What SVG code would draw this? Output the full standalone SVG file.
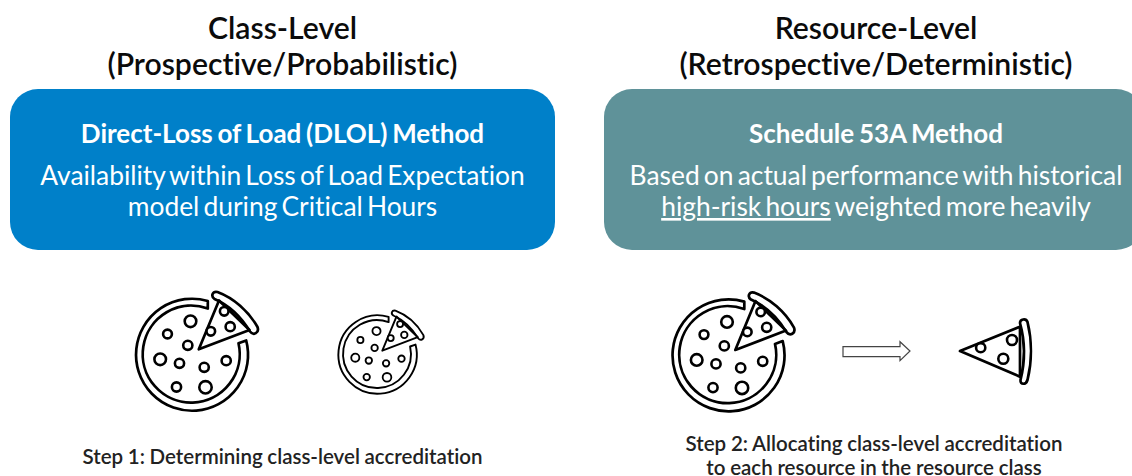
<svg xmlns="http://www.w3.org/2000/svg" xmlns:xlink="http://www.w3.org/1999/xlink" width="1132" height="476" viewBox="0 0 1132 476">
<style>
text{font-family:Lato,"Open Sans",sans-serif;text-anchor:middle;font-variant-ligatures:none}
.title{font-size:30.2px;font-weight:600;fill:#0b0b0b}
.head{font-size:26px;font-weight:700;fill:#fff;word-spacing:-1.6px}
.body{font-size:26.4px;fill:#fff;word-spacing:-2.6px}
.step{font-size:20.5px;font-weight:600;fill:#222;word-spacing:-.4px}
.l{fill:none;stroke:#000;stroke-width:2.7;stroke-linejoin:round;stroke-linecap:round}
.w{fill:#fff;stroke:#000;stroke-width:2.6}
</style>
<defs>
<g id="pizza">
<path class="l" d="M17.3-53A56 56 0 1 0 55.7-13.5L48-10.7A48.5 48.5 0 1 1 17.3-45.5Z"/>
<path class="l" d="M8.3-4.7L28.5-53.5L59-24Z"/>
<path class="l" d="M27-62C43-56 58-43 67-27C69-21 63-18 59.500-22.500C50-38 38-49 24-55C20-58 22-63 27-62Z" fill="#fff"/>
<circle class="w" cx="0" cy="-32.7" r="5.8"/><circle class="w" cx="-23" cy="-20" r="4.4"/><circle class="w" cx="-2.7" cy="-8.700" r="4.6"/><circle class="w" cx="-30.3" cy="5.3" r="5.8"/><circle class="w" cx="-11" cy="9.3" r="4.6"/><circle class="w" cx="13.7" cy="13.3" r="4.6"/><circle class="w" cx="35.7" cy="6.7" r="4.6"/><circle class="w" cx="-14" cy="33" r="4.6"/><circle class="w" cx="15" cy="33.3" r="6.2"/><circle class="w" cx="33.7" cy="-42.7" r="4.3"/><circle class="w" cx="39.7" cy="-27.3" r="4.6"/><circle class="w" cx="20.3" cy="-22.7" r="4.3"/>
</g>
</defs>
<g id="title-class"><text class="title" x="282.5" y="38.500">Class-Level</text><text class="title" x="282.500" y="74.500">(Prospective/Probabilistic)</text></g>
<g id="title-resource"><text class="title" x="876" y="38.500">Resource-Level</text><text class="title" x="876" y="74.500">(Retrospective/Deterministic)</text></g>
<g id="box-dlol"><rect x="10" y="89" width="545" height="161" rx="28" fill="#0080C9"/>
<text class="head" x="282.5" y="142.500">Direct-Loss of Load (DLOL) Method</text>
<text class="body" x="282.5" y="185">Availability within Loss of Load Expectation</text>
<text class="body" x="282.5" y="216">model during Critical Hours</text></g>
<g id="box-53a"><rect x="604" y="89" width="540" height="161" rx="28" fill="#5F9299"/>
<text class="head" x="876" y="142.500">Schedule 53A Method</text>
<text class="body" x="876" y="185">Based on actual performance with historical</text>
<text class="body" x="876" y="216"><tspan text-decoration="underline">high-risk hours</tspan> weighted more heavily</text></g>
<g id="pizza-large-1"><use xlink:href="#pizza" href="#pizza" transform="translate(190.5 354)"/></g>
<g id="pizza-small"><use xlink:href="#pizza" href="#pizza" transform="translate(376.5 354) scale(.7)"/></g>
<g id="pizza-large-2"><use xlink:href="#pizza" href="#pizza" transform="translate(727 354.6)"/></g>
<g id="connectors"><path d="M843 346.7H900V341.7L910 351L900 360.7V356.700H843Z" fill="#fff" stroke="#444" stroke-width="1.2"/></g>
<g id="slice"><path class="l" d="M960 351L1020 326.700V376.700Z"/>
<path class="l" d="M1020 323C1020 319 1026 318 1027.500 322C1032 340 1032 362 1027.500 380C1026 385 1020 385 1020.500 380C1025 362 1025 341 1020 323Z" fill="#fff"/>
<circle class="w" cx="980.7" cy="347.7" r="4.6"/><circle class="w" cx="1012" cy="340" r="5"/><circle class="w" cx="1003.3" cy="358.7" r="5"/></g>
<g id="step-1"><text class="step" x="282.5" y="463.500">Step 1: Determining class-level accreditation</text></g>
<g id="step-2"><text class="step" x="874" y="450.500">Step 2: Allocating class-level accreditation</text><text class="step" x="874" y="474.500">to each resource in the resource class</text></g>
</svg>
